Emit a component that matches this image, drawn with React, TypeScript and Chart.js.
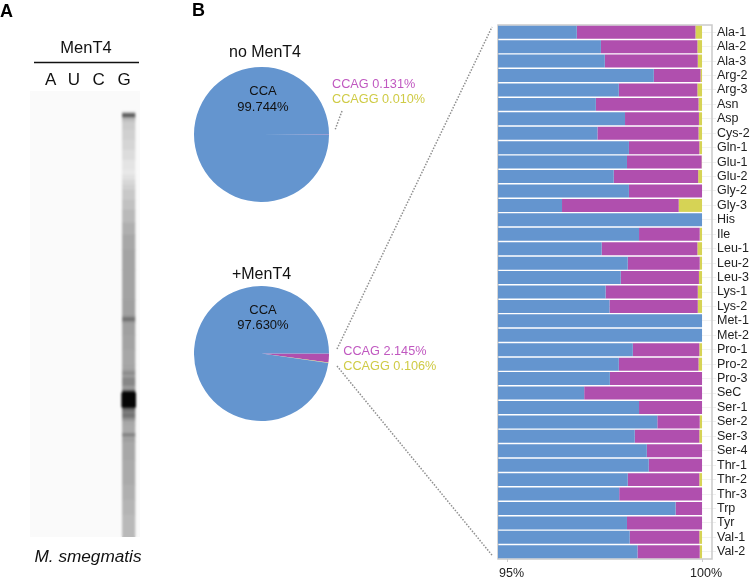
import React, { useEffect, useRef } from "react";
import { Chart, registerables } from "chart.js";

Chart.register(...registerables);

const FONT = "'Liberation Sans', Arial, sans-serif";
const BLUE = "#6495cf";
const MAGENTA = "#b04fae";
const YELLOW = "#d6d355";
const MAGENTA_TEXT = "#c058c0";
const YELLOW_TEXT = "#cfcb45";

// Stacked bars: per-tRNA share of each 3' end
const trnas = ["Ala-1","Ala-2","Ala-3","Arg-2","Arg-3","Asn","Asp","Cys-2","Gln-1","Glu-1","Glu-2","Gly-2","Gly-3","His","Ile","Leu-1","Leu-2","Leu-3","Lys-1","Lys-2","Met-1","Met-2","Pro-1","Pro-2","Pro-3","SeC","Ser-1","Ser-2","Ser-3","Ser-4","Thr-1","Thr-2","Thr-3","Trp","Tyr","Val-1","Val-2"];
const ccaShare = [96.78,97.40,97.50,98.76,97.86,97.27,98.02,97.31,98.12,98.07,97.73,98.12,96.40,100,98.38,97.42,98.09,97.91,97.52,97.62,100,100,98.22,97.86,97.63,96.97,98.38,98.85,98.27,98.58,98.63,98.09,97.87,99.32,98.07,98.14,98.34];
const ccagShare = [3.05,2.48,2.39,1.20,2.02,2.64,1.90,2.60,1.81,1.92,2.17,1.88,3.00,0,1.56,2.46,1.85,2.01,2.37,2.27,0,0,1.71,2.05,2.37,3.03,1.62,1.09,1.66,1.42,1.37,1.84,2.13,0.68,1.93,1.79,1.60];
const ccaggShare = [0.17,0.12,0.11,0.04,0.12,0.09,0.08,0.09,0.07,0.01,0.10,0,0.60,0,0.06,0.12,0.06,0.08,0.11,0.11,0,0,0.07,0.09,0,0,0,0.06,0.07,0,0,0.07,0,0,0,0.07,0.06];
const shareTicks = [95, 100];

// Pies
const pieSpecies = ["CCAG", "CCAGG", "CCA"];
const noMenT4 = [0.131, 0.01, 99.744];
const plusMenT4 = [2.145, 0.106, 97.63];

// Gel: lanes and the G lane's density profile along the migration axis
const laneNames = ["A", "U", "C", "G"];
const lanePositions = [20.7, 44, 68.7, 94];
const signalLane = 98.7;
const gelEdges = [112,113.5,115,117,119,122,130,140,150,160,170,175,180,185,190,200,210,223,235,250,270,300,316,318,321,323,335,350,365,370,372,375,378,382,386,390,392,408,411,414,418,421,425,433,434.5,436.5,442,460,485,500,515,537];
const gelDensity = [0.2,0.55,0.68,0.35,0.24,0.19,0.17,0.15,0.12,0.09,0.07,0.1,0.14,0.17,0.2,0.23,0.26,0.3,0.33,0.35,0.35,0.36,0.42,0.56,0.42,0.36,0.35,0.33,0.34,0.38,0.44,0.38,0.46,0.46,0.38,0.6,0.98,0.6,0.5,0.54,0.42,0.33,0.32,0.42,0.5,0.36,0.33,0.32,0.3,0.28,0.26];
const coreFrom = [393];
const coreTo = [407];
const coreDensity = [1];

const grey = (d: number) => {
  const v = Math.round(250 * (1 - d));
  return `rgb(${v},${v},${v})`;
};

const frame = {
  id: "frame",
  beforeDatasetsDraw(c: any) {
    const { left, top, width, height } = c.chartArea;
    const g = c.ctx;
    g.save();
    g.strokeStyle = "#cacaca";
    g.lineWidth = 1.5;
    g.strokeRect(left, top, width, height);
    g.restore();
  },
};

const gelPaper = {
  id: "gelPaper",
  beforeDatasetsDraw(c: any) {
    const { left, top, width, height } = c.chartArea;
    const g = c.ctx;
    g.save();
    g.fillStyle = "#fafafa";
    g.fillRect(left, top, width, height);
    g.restore();
  },
  afterDatasetsDraw(c: any) {
    const { left, top, width, height } = c.chartArea;
    const g = c.ctx;
    g.save();
    g.beginPath();
    g.rect(left, top, width, height);
    g.clip();
    g.filter = "blur(1.2px)";
    g.drawImage(c.canvas, left, top, width, height, left, top, width, height);
    g.restore();
  },
};

function Label(p: { x: number; y: number; size?: number; color?: string; center?: boolean; bold?: boolean; italic?: boolean; children: React.ReactNode }) {
  return (
    <div
      style={{
        position: "absolute",
        left: p.x,
        top: p.y,
        transform: p.center ? "translate(-50%,-50%)" : "translateY(-50%)",
        fontSize: p.size ?? 13,
        color: p.color ?? "#111",
        fontWeight: p.bold ? 700 : 400,
        fontStyle: p.italic ? "italic" : "normal",
        whiteSpace: "nowrap",
        lineHeight: 1,
      }}
    >
      {p.children}
    </div>
  );
}

const pieOptions: any = {
  responsive: false,
  animation: false,
  rotation: 90,
  layout: { padding: 0 },
  plugins: { legend: { display: false }, tooltip: { enabled: false } },
};

export default function App() {
  const barRef = useRef<HTMLCanvasElement>(null);
  const pieARef = useRef<HTMLCanvasElement>(null);
  const pieBRef = useRef<HTMLCanvasElement>(null);
  const gelRef = useRef<HTMLCanvasElement>(null);

  useEffect(() => {
    const charts: Chart[] = [];
    const bar = (label: string, data: number[], color: string) => ({
      label,
      data,
      backgroundColor: color,
      borderWidth: 0,
      barPercentage: 0.9,
      categoryPercentage: 1,
    });
    charts.push(
      new Chart(barRef.current!, {
        type: "bar",
        data: {
          labels: trnas,
          datasets: [
            bar("CCA", ccaShare, BLUE),
            bar("CCAG", ccagShare, MAGENTA),
            bar("CCAGG", ccaggShare, YELLOW),
          ],
        },
        options: {
          indexAxis: "y",
          responsive: false,
          animation: false,
          layout: { padding: { left: 8, top: 10, right: 0, bottom: 0 } },
          plugins: { legend: { display: false }, tooltip: { enabled: false } },
          scales: {
            x: {
              stacked: true,
              min: 94.754,
              max: 100.256,
              border: { display: false },
              grid: { drawOnChartArea: false, tickLength: 3, color: "#cccccc" },
              afterBuildTicks: (a: any) => {
                a.ticks = shareTicks.map((value) => ({ value }));
              },
              afterFit: (s: any) => {
                s.height = 22;
              },
              ticks: {
                autoSkip: false,
                maxRotation: 0,
                padding: 4,
                labelOffset: 4,
                color: "#222",
                font: { family: FONT, size: 12.5 },
                callback: (v: any) => `${v}%`,
              },
            },
            y: {
              stacked: true,
              position: "right",
              border: { display: false },
              grid: { offset: false, color: "#f1f1f1", tickColor: "#eeeeee", tickLength: 4 },
              afterFit: (s: any) => {
                s.width = 38;
              },
              ticks: {
                autoSkip: false,
                padding: 1,
                color: "#222",
                font: { family: FONT, size: 12.5 },
              },
            },
          },
        } as any,
        plugins: [frame],
      })
    );

    const pie = (canvas: HTMLCanvasElement, values: number[]) =>
      new Chart(canvas, {
        type: "pie",
        data: {
          labels: pieSpecies,
          datasets: [{ data: values, backgroundColor: [MAGENTA, YELLOW, BLUE], borderWidth: 0 }],
        },
        options: pieOptions,
      });
    charts.push(pie(pieARef.current!, noMenT4));
    charts.push(pie(pieBRef.current!, plusMenT4));

    charts.push(
      new Chart(gelRef.current!, {
        type: "bar",
        data: {
          datasets: [
            {
              data: gelDensity.map((_, i) => ({ x: signalLane, y: [gelEdges[i], gelEdges[i + 1]] })),
              backgroundColor: gelDensity.map(grey),
              borderWidth: 0,
              barThickness: 12.5,
              grouped: false,
            },
            {
              data: coreFrom.map((f, i) => ({ x: signalLane, y: [f, coreTo[i]] })),
              backgroundColor: coreDensity.map(grey),
              borderWidth: 0,
              barThickness: 14,
              grouped: false,
            },
          ],
        } as any,
        options: {
          responsive: false,
          animation: false,
          layout: { padding: 0 },
          plugins: { legend: { display: false }, tooltip: { enabled: false } },
          scales: {
            x: {
              type: "linear",
              position: "top",
              offset: false,
              min: 0,
              max: 110,
              border: { display: false },
              grid: { display: false, drawTicks: false, offset: false },
              afterBuildTicks: (a: any) => {
                a.ticks = lanePositions.map((value) => ({ value }));
              },
              afterFit: (s: any) => {
                s.height = 31;
              },
              ticks: {
                autoSkip: false,
                maxRotation: 0,
                padding: 0,
                color: "#111",
                font: { family: FONT, size: 17 },
                callback: (_: any, i: number) => laneNames[i],
              },
            },
            y: { display: false, reverse: true, min: 91, max: 537, beginAtZero: false },
          },
        } as any,
        plugins: [gelPaper],
      })
    );
    return () => charts.forEach((c) => c.destroy());
  }, []);

  const abs = (left: number, top: number): React.CSSProperties => ({ position: "absolute", left, top, display: "block" });

  return (
    <div style={{ position: "absolute", left: 0, top: 0, width: 750, height: 581, overflow: "hidden", background: "#fff", fontFamily: FONT }}>
      <canvas ref={gelRef} width={110} height={477} style={abs(30, 60)} />
      <canvas ref={pieARef} width={135} height={135} style={abs(194, 67)} />
      <canvas ref={pieBRef} width={135} height={135} style={abs(194, 286)} />
      <canvas ref={barRef} width={260} height={566} style={abs(490, 15)} />

      <svg width={750} height={581} style={{ position: "absolute", left: 0, top: 0, pointerEvents: "none" }}>
        <g stroke="#8f8f8f" strokeWidth={1.5} strokeDasharray="1.5 1.5" fill="none">
          <line x1={342} y1={111} x2={335} y2={130} />
          <line x1={337} y1={349} x2={492} y2={27} />
          <line x1={337} y1={366} x2={492.7} y2={556} />
        </g>
        <line x1={34} y1={62.5} x2={139} y2={62.5} stroke="#111" strokeWidth={1.5} />
      </svg>

      <Label x={0} y={11} size={18} bold color="#000">A</Label>
      <Label x={192} y={10} size={18} bold color="#000">B</Label>
      <Label x={86} y={47} size={16.5} center>MenT4</Label>
      <Label x={88} y={557} size={17.2} center italic>M. smegmatis</Label>

      <Label x={265} y={52} size={16} center>no MenT4</Label>
      <Label x={263} y={90} center>{pieSpecies[2]}</Label>
      <Label x={263} y={105.5} center>{noMenT4[2].toFixed(3)}%</Label>
      <Label x={332} y={84} size={12.7} color={MAGENTA_TEXT}>{pieSpecies[0]} {noMenT4[0].toFixed(3)}%</Label>
      <Label x={332} y={99} size={12.7} color={YELLOW_TEXT}>{pieSpecies[1]} {noMenT4[1].toFixed(3)}%</Label>

      <Label x={261.5} y={273.5} size={16} center>+MenT4</Label>
      <Label x={263} y={308.5} center>{pieSpecies[2]}</Label>
      <Label x={263} y={324} center>{plusMenT4[2].toFixed(3)}%</Label>
      <Label x={343.3} y={350.7} size={12.7} color={MAGENTA_TEXT}>{pieSpecies[0]} {plusMenT4[0].toFixed(3)}%</Label>
      <Label x={343.3} y={366} size={12.7} color={YELLOW_TEXT}>{pieSpecies[1]} {plusMenT4[1].toFixed(3)}%</Label>
    </div>
  );
}
